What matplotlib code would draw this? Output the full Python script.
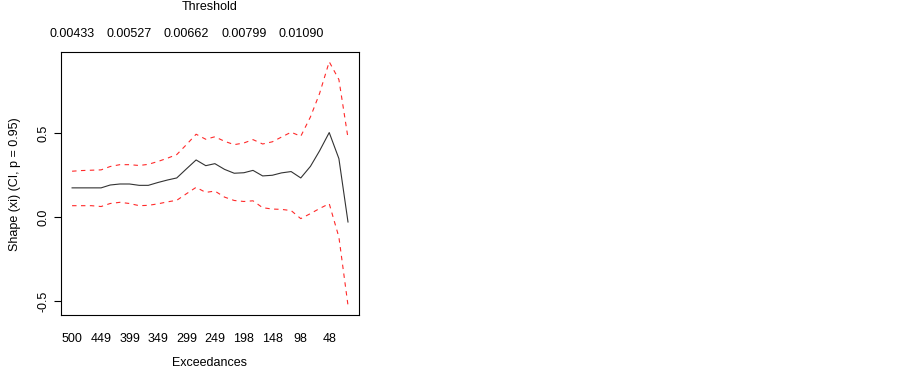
import matplotlib.pyplot as plt
import numpy as np

plt.rcParams['font.family'] = ['Liberation Sans', 'DejaVu Sans']
plt.rcParams['font.size'] = 9

# number of exceedances used in each fit (30 models, 500 down to 15)
nexc = [500, 483, 466, 449, 433, 416, 399, 382, 366, 349,
        332, 316, 299, 282, 265, 249, 232, 215, 198, 182,
        165, 148, 132, 115, 98, 81, 65, 48, 31, 15]

# shape estimate xi
xi = [0.173, 0.173, 0.173, 0.173, 0.190, 0.196, 0.196, 0.188, 0.188, 0.205,
      0.220, 0.232, 0.286, 0.339, 0.305, 0.317, 0.283, 0.260, 0.263, 0.277,
      0.244, 0.248, 0.262, 0.270, 0.232, 0.301, 0.393, 0.502, 0.347, -0.030]

# confidence band
upper = [0.272, 0.276, 0.278, 0.280, 0.300, 0.311, 0.311, 0.306, 0.313, 0.330,
         0.350, 0.371, 0.430, 0.492, 0.462, 0.477, 0.450, 0.430, 0.440, 0.460,
         0.434, 0.447, 0.475, 0.504, 0.480, 0.595, 0.734, 0.923, 0.817, 0.470]
lower = [0.067, 0.067, 0.067, 0.062, 0.080, 0.087, 0.080, 0.067, 0.069, 0.078,
         0.090, 0.099, 0.138, 0.176, 0.146, 0.154, 0.118, 0.098, 0.092, 0.096,
         0.055, 0.047, 0.045, 0.038, -0.010, 0.020, 0.050, 0.079, -0.120, -0.526]

bottom_ticks = [500, 449, 399, 349, 299, 249, 198, 148, 98, 48]
top_ticks = [500, 399, 299, 198, 98]
top_labels = ['0.00433', '0.00527', '0.00662', '0.00799', '0.01090']

fig = plt.figure(figsize=(9.03, 3.69), dpi=100)
ax = fig.add_axes([0.0676, 0.146, 0.33, 0.713])

ax.plot(nexc, xi, color='#333333', lw=0.8)
ax.plot(nexc, upper, color='#ff2a2a', lw=0.8, ls=(0, (4, 4)))
ax.plot(nexc, lower, color='#ff2a2a', lw=0.8, ls=(0, (4, 4)))

ax.margins(x=0.04, y=0.04)
ax.set_xlim(max(nexc) + 0.04 * 485, min(nexc) - 0.04 * 485)

ax.set_xticks(bottom_ticks)
ax.set_xticklabels([str(v) for v in bottom_ticks])
ax.tick_params(axis='x', length=0, pad=13)

ax.set_yticks([-0.5, 0.0, 0.5])
ax.set_yticklabels(['-0.5', '0.0', '0.5'], rotation=90, va='center')
ax.tick_params(axis='y', length=5, width=0.8, pad=3)

sec = ax.secondary_xaxis('top')
sec.set_xticks(top_ticks)
sec.set_xticklabels(top_labels)
sec.tick_params(length=0, pad=9)
sec.spines['top'].set_visible(False)

for s in ax.spines.values():
    s.set_linewidth(0.8)

fig.text(0.232, 0.997, 'Threshold', ha='center', va='top')
fig.text(0.232, 0.016, 'Exceedances', ha='center', va='center')
fig.text(0.017, 0.5, 'Shape (xi) (CI, p = 0.95)', rotation=90, ha='center', va='center')

fig.savefig('out.png', dpi=100)
